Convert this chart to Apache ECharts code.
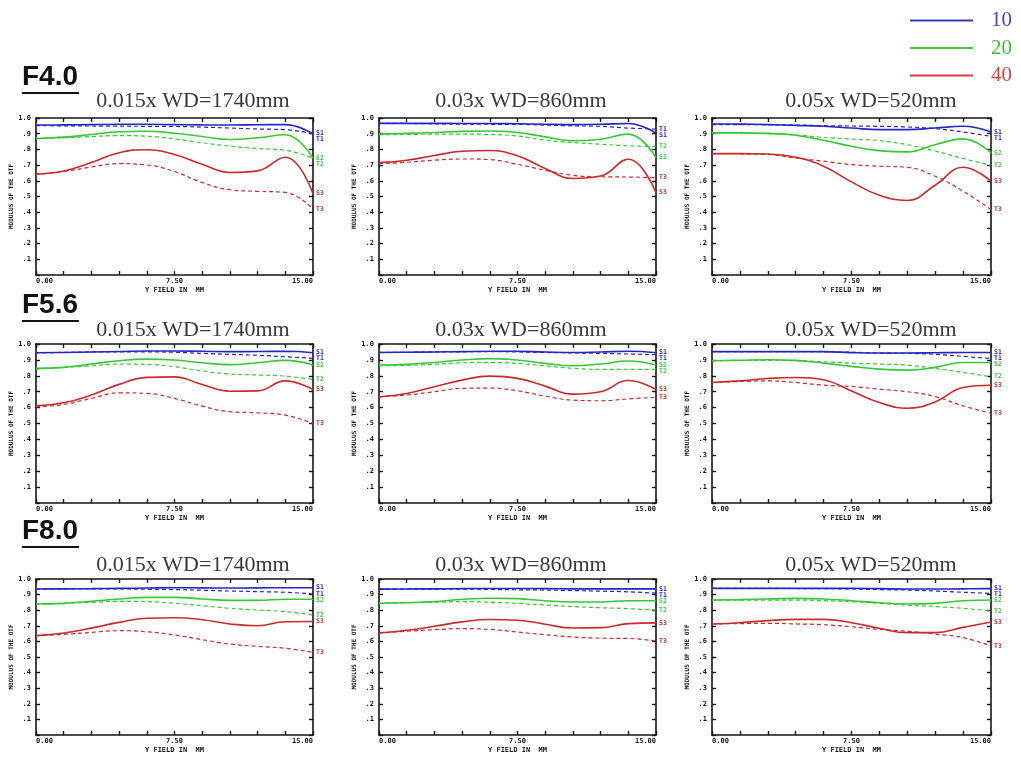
<!DOCTYPE html>
<html>
<head>
<meta charset="utf-8">
<script src="https://cdn.jsdelivr.net/npm/echarts@6/dist/echarts.min.js"></script>
<style>
html,body{margin:0;padding:0;background:#fff;}
#c{width:1021px;height:761px;}
</style>
</head>
<body>
<div id="c"></div>
<script>
// ---- DATA ----
const FIELD = [0, 1.5, 3, 4.5, 6, 7.5, 9, 10.5, 12, 13.5, 15];
const X_TICK_LABELS = ['0.00', '7.50', '15.00'];
const APERTURES = ['F4.0', 'F5.6', 'F8.0'];
const SETUPS = ['0.015x WD=1740mm', '0.03x WD=860mm', '0.05x WD=520mm'];
const FREQS = ['10', '20', '40'];
const CURVE_NAMES = ['S1', 'T1', 'S2', 'T2', 'S3', 'T3'];

// F4.0 / 0.015x
const p11_S1 = [0.955,0.956,0.958,0.960,0.960,0.958,0.956,0.955,0.957,0.958,0.900];
const p11_T1 = [0.951,0.950,0.949,0.948,0.947,0.946,0.942,0.936,0.930,0.926,0.898];
const p11_S2 = [0.869,0.878,0.895,0.912,0.916,0.903,0.882,0.863,0.874,0.893,0.745];
const p11_T2 = [0.869,0.874,0.882,0.888,0.884,0.867,0.842,0.821,0.806,0.794,0.745];
const p11_S3 = [0.642,0.663,0.716,0.779,0.798,0.768,0.705,0.653,0.663,0.750,0.518];
const p11_T3 = [0.642,0.659,0.688,0.709,0.701,0.659,0.589,0.543,0.533,0.526,0.421];
// F4.0 / 0.03x
const p12_S1 = [0.966,0.966,0.966,0.965,0.965,0.963,0.960,0.958,0.960,0.965,0.904];
const p12_T1 = [0.966,0.965,0.963,0.961,0.960,0.959,0.955,0.950,0.947,0.936,0.929];
const p12_S2 = [0.897,0.902,0.908,0.915,0.917,0.908,0.880,0.855,0.865,0.897,0.748];
const p12_T2 = [0.893,0.895,0.897,0.897,0.895,0.885,0.859,0.844,0.833,0.823,0.818];
const p12_S3 = [0.716,0.731,0.761,0.788,0.793,0.759,0.679,0.615,0.630,0.737,0.524];
const p12_T3 = [0.709,0.718,0.731,0.739,0.735,0.705,0.667,0.635,0.626,0.624,0.620];
// F4.0 / 0.05x
const p13_S1 = [0.962,0.961,0.958,0.953,0.947,0.936,0.926,0.926,0.936,0.947,0.911];
const p13_T1 = [0.958,0.958,0.958,0.955,0.951,0.949,0.947,0.943,0.932,0.911,0.883];
const p13_S2 = [0.905,0.905,0.902,0.890,0.858,0.820,0.792,0.784,0.830,0.867,0.778];
const p13_T2 = [0.905,0.904,0.900,0.892,0.876,0.866,0.856,0.830,0.790,0.742,0.699];
const p13_S3 = [0.773,0.773,0.771,0.750,0.693,0.593,0.508,0.475,0.572,0.686,0.597];
const p13_T3 = [0.773,0.772,0.768,0.745,0.725,0.703,0.693,0.686,0.629,0.534,0.417];
// F5.6 / 0.015x
const p21_S1 = [0.945,0.947,0.950,0.953,0.956,0.956,0.954,0.952,0.953,0.954,0.945];
const p21_T1 = [0.945,0.947,0.950,0.950,0.950,0.948,0.941,0.935,0.929,0.920,0.910];
const p21_S2 = [0.847,0.853,0.874,0.895,0.905,0.899,0.882,0.870,0.882,0.897,0.868];
const p21_T2 = [0.842,0.853,0.863,0.874,0.872,0.857,0.830,0.811,0.805,0.798,0.777];
const p21_S3 = [0.611,0.630,0.679,0.746,0.790,0.793,0.745,0.703,0.705,0.768,0.714];
const p21_T3 = [0.605,0.620,0.658,0.693,0.689,0.658,0.609,0.574,0.567,0.553,0.500];
// F5.6 / 0.03x
const p22_S1 = [0.947,0.948,0.950,0.952,0.954,0.954,0.950,0.947,0.950,0.954,0.945];
const p22_T1 = [0.947,0.948,0.950,0.951,0.952,0.950,0.947,0.944,0.941,0.937,0.933];
const p22_S2 = [0.868,0.872,0.884,0.899,0.908,0.899,0.878,0.863,0.874,0.893,0.868];
const p22_T2 = [0.863,0.866,0.872,0.882,0.884,0.878,0.863,0.847,0.840,0.840,0.840];
const p22_S3 = [0.668,0.689,0.731,0.773,0.798,0.784,0.735,0.685,0.700,0.770,0.714];
const p22_T3 = [0.668,0.679,0.700,0.721,0.723,0.706,0.672,0.647,0.643,0.655,0.664];
// F5.6 / 0.05x
const p23_S1 = [0.952,0.952,0.952,0.952,0.952,0.946,0.943,0.943,0.945,0.947,0.947];
const p23_T1 = [0.952,0.952,0.952,0.952,0.951,0.948,0.943,0.941,0.935,0.922,0.909];
const p23_S2 = [0.895,0.898,0.901,0.897,0.880,0.859,0.842,0.836,0.853,0.884,0.884];
const p23_T2 = [0.895,0.896,0.897,0.895,0.888,0.880,0.874,0.867,0.846,0.821,0.794];
const p23_S3 = [0.758,0.768,0.783,0.789,0.775,0.705,0.632,0.596,0.636,0.726,0.741];
const p23_T3 = [0.758,0.764,0.768,0.758,0.741,0.733,0.716,0.700,0.669,0.611,0.564];
// F8.0 / 0.015x
const p31_S1 = [0.936,0.937,0.938,0.940,0.942,0.944,0.943,0.942,0.943,0.944,0.944];
const p31_T1 = [0.936,0.936,0.936,0.936,0.934,0.932,0.928,0.923,0.919,0.915,0.904];
const p31_S2 = [0.840,0.844,0.857,0.872,0.882,0.882,0.872,0.863,0.863,0.870,0.870];
const p31_T2 = [0.840,0.845,0.850,0.857,0.855,0.844,0.829,0.812,0.801,0.791,0.769];
const p31_S3 = [0.637,0.654,0.685,0.722,0.748,0.752,0.739,0.712,0.700,0.726,0.728];
const p31_T3 = [0.637,0.645,0.658,0.669,0.662,0.641,0.611,0.583,0.568,0.556,0.530];
// F8.0 / 0.03x
const p32_S1 = [0.935,0.936,0.937,0.938,0.939,0.939,0.938,0.937,0.937,0.937,0.937];
const p32_T1 = [0.935,0.935,0.935,0.935,0.933,0.931,0.929,0.926,0.922,0.918,0.909];
const p32_S2 = [0.844,0.848,0.855,0.870,0.877,0.874,0.861,0.853,0.853,0.861,0.861];
const p32_T2 = [0.844,0.848,0.851,0.855,0.851,0.844,0.833,0.823,0.816,0.810,0.801];
const p32_S3 = [0.654,0.671,0.697,0.725,0.740,0.736,0.710,0.686,0.688,0.714,0.719];
const p32_T3 = [0.654,0.665,0.675,0.682,0.677,0.660,0.643,0.628,0.621,0.619,0.602];
// F8.0 / 0.05x
const p33_S1 = [0.940,0.940,0.940,0.940,0.940,0.940,0.938,0.936,0.936,0.937,0.938];
const p33_T1 = [0.940,0.940,0.940,0.939,0.938,0.936,0.932,0.929,0.923,0.915,0.908];
const p33_S2 = [0.865,0.868,0.872,0.876,0.872,0.861,0.848,0.840,0.844,0.861,0.865];
const p33_T2 = [0.865,0.865,0.865,0.865,0.861,0.855,0.844,0.833,0.823,0.812,0.795];
const p33_S3 = [0.712,0.720,0.733,0.741,0.741,0.720,0.684,0.656,0.656,0.690,0.724];
const p33_T3 = [0.712,0.714,0.716,0.712,0.707,0.694,0.677,0.665,0.647,0.624,0.571];

const PANELS = [
  [[p11_S1,p11_T1,p11_S2,p11_T2,p11_S3,p11_T3],
   [p12_S1,p12_T1,p12_S2,p12_T2,p12_S3,p12_T3],
   [p13_S1,p13_T1,p13_S2,p13_T2,p13_S3,p13_T3]],
  [[p21_S1,p21_T1,p21_S2,p21_T2,p21_S3,p21_T3],
   [p22_S1,p22_T1,p22_S2,p22_T2,p22_S3,p22_T3],
   [p23_S1,p23_T1,p23_S2,p23_T2,p23_S3,p23_T3]],
  [[p31_S1,p31_T1,p31_S2,p31_T2,p31_S3,p31_T3],
   [p32_S1,p32_T1,p32_S2,p32_T2,p32_S3,p32_T3],
   [p33_S1,p33_T1,p33_S2,p33_T2,p33_S3,p33_T3]]
];

// ---- LAYOUT / STYLE ----
const COL_LEFT = [36, 379, 712];
const COL_W = [277, 277, 279];
const ROW_TOP = [118, 344, 579];
const ROW_H = [157, 159, 156];
const COL_CX = [193, 521, 871];
const ROW_SUB_Y = [101, 330, 565];
const AP_TOP = [63, 291, 517];
const LINE_COLORS = ['#2525c8', '#35c935', '#cc2a2a'];
const LEGEND_LINE = ['#3a3ab8', '#3fcd3f', '#e03a3a'];
const LEGEND_TEXT = ['#4646c0', '#3fbf3f', '#d84444'];
const AX = '#151515';
const MONO = 'DejaVu Sans Mono';
const LABEL_GAP = 6;

const grids = [], xAxes = [], yAxes = [], series = [], graphics = [];
const near = (a, b) => Math.abs(a - b) < 1e-6;

// stack end labels so they do not overlap (pixel offsets only)
function labelOffsets(curves, H) {
  const items = curves.map((v, k) => ({k, y: (1 - v[v.length - 1]) * H}));
  items.sort((a, b) => (a.y - b.y) || (a.k - b.k));
  const out = new Array(curves.length).fill(0);
  let prev = -Infinity;
  items.forEach(it => {
    const ny = Math.max(it.y, prev + LABEL_GAP);
    out[it.k] = ny - it.y;
    prev = ny;
  });
  return out;
}

for (let r = 0; r < 3; r++) {
  for (let c = 0; c < 3; c++) {
    const gi = grids.length;
    grids.push({left: COL_LEFT[c], top: ROW_TOP[r], width: COL_W[c], height: ROW_H[r]});
    const tick = {show: true, inside: true, length: 4, lineStyle: {color: AX, width: 1.4}};
    const line = {show: true, onZero: false, lineStyle: {color: AX, width: 1.6}};
    xAxes.push({
      gridIndex: gi, type: 'value', min: 0, max: 15, interval: 1.5, position: 'bottom',
      axisLine: line, axisTick: tick, splitLine: {show: false},
      axisLabel: {
        interval: 0, margin: 3, color: AX, fontFamily: MONO, fontWeight: 'bold', fontSize: 7,
        alignMinLabel: 'left', alignMaxLabel: 'right',
        formatter: v => near(v, 0) ? X_TICK_LABELS[0] : near(v, 7.5) ? X_TICK_LABELS[1] : near(v, 15) ? X_TICK_LABELS[2] : ''
      },
      name: 'Y FIELD IN  MM', nameLocation: 'middle', nameGap: 12,
      nameTextStyle: {color: AX, fontFamily: MONO, fontWeight: 'bold', fontSize: 7}
    });
    xAxes.push({
      gridIndex: gi, type: 'value', min: 0, max: 15, interval: 1.5, position: 'top',
      axisLine: line, axisTick: tick, splitLine: {show: false}, axisLabel: {show: false}
    });
    yAxes.push({
      gridIndex: gi, type: 'value', min: 0, max: 1, interval: 0.1, position: 'left',
      axisLine: line, axisTick: tick, splitLine: {show: false},
      axisLabel: {
        margin: 5, color: AX, fontFamily: MONO, fontWeight: 'bold', fontSize: 7,
        formatter: v => v < 0.05 ? '' : (v > 0.95 ? '1.0' : '.' + Math.round(v * 10))
      },
      name: 'MODULUS OF THE OTF', nameLocation: 'middle', nameGap: 21, nameRotate: 90,
      nameTextStyle: {color: AX, fontFamily: MONO, fontWeight: 'bold', fontSize: 6}
    });
    yAxes.push({
      gridIndex: gi, type: 'value', min: 0, max: 1, interval: 0.1, position: 'right',
      axisLine: line, axisTick: tick, splitLine: {show: false}, axisLabel: {show: false}
    });
    const curves = PANELS[r][c];
    const offs = labelOffsets(curves, ROW_H[r]);
    curves.forEach((vals, k) => {
      const col = LINE_COLORS[Math.floor(k / 2)];
      const dashed = k % 2 === 1;
      series.push({
        type: 'line', name: CURVE_NAMES[k],
        xAxisIndex: gi * 2, yAxisIndex: gi * 2,
        data: FIELD.map((x, i) => [x, vals[i]]),
        smooth: 0.45, showSymbol: false, symbol: 'none', silent: true,
        lineStyle: {color: col, width: dashed ? 1.2 : 1.6, type: dashed ? [4, 3] : 'solid'},
        itemStyle: {color: col},
        endLabel: {show: true, formatter: CURVE_NAMES[k], color: col, fontFamily: MONO,
                   fontWeight: 'bold', fontSize: 6.5, distance: 3, offset: [0, offs[k]]},
        z: 3
      });
    });
    // subtitle
    graphics.push({
      type: 'text', x: COL_CX[c], y: ROW_SUB_Y[r],
      style: {text: SETUPS[c], fill: '#3a3a3a', font: '22px "Liberation Serif"',
              textAlign: 'center', textVerticalAlign: 'middle'}
    });
  }
  // aperture heading with underline
  graphics.push({
    type: 'text', x: 22, y: AP_TOP[r],
    style: {text: APERTURES[r], fill: '#111', font: 'bold 28px "Liberation Sans"',
            textAlign: 'left', textVerticalAlign: 'top'}
  });
  graphics.push({
    type: 'rect', shape: {x: 22, y: AP_TOP[r] + 29, width: 57, height: 2},
    style: {fill: '#111'}
  });
}

// legend dummy series (frequencies, lp/mm)
FREQS.forEach((f, i) => {
  series.push({type: 'line', name: f, xAxisIndex: 0, yAxisIndex: 0, data: [],
               lineStyle: {color: LEGEND_LINE[i]}, itemStyle: {color: LEGEND_LINE[i]}});
});

const chart = echarts.init(document.getElementById('c'));
chart.setOption({
  animation: false,
  backgroundColor: '#ffffff',
  grid: grids, xAxis: xAxes, yAxis: yAxes, series: series,
  legend: {
    orient: 'vertical', left: 905, top: 5, itemWidth: 63, itemHeight: 2, itemGap: 6.5,
    icon: 'rect', selectedMode: false,
    data: FREQS.map((f, i) => ({name: f, textStyle: {color: LEGEND_TEXT[i]}})),
    textStyle: {fontFamily: 'Liberation Serif', fontSize: 21, lineHeight: 21, padding: [0, 0, 0, 13]}
  },
  graphic: graphics
});
</script>
</body>
</html>
